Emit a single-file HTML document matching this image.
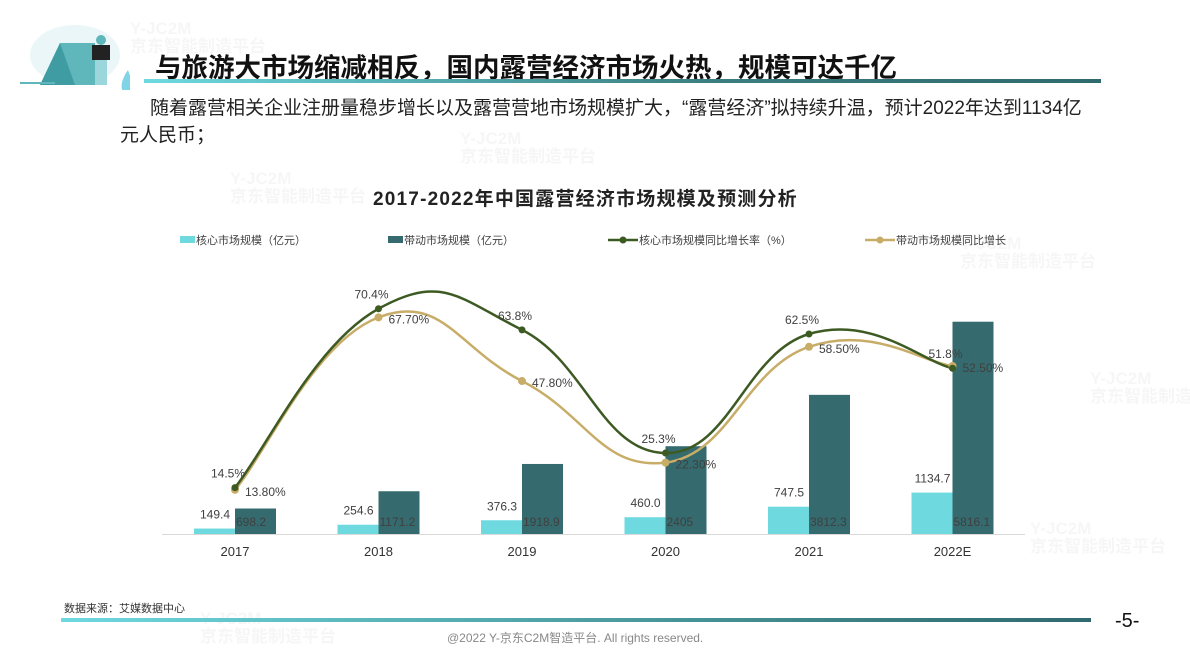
<!DOCTYPE html>
<html><head><meta charset="utf-8">
<style>
body{margin:0;background:#fff;}
#root{position:relative;width:1190px;height:669px;overflow:hidden;background:#fff;font-family:"Liberation Sans","Noto Sans CJK SC",sans-serif;}
.abs{position:absolute;}
.wm{position:absolute;color:#000;opacity:0.03;font-size:17px;font-weight:bold;line-height:18px;white-space:nowrap;}
</style></head>
<body>
<div id="root">
  <div class="wm" style="left:130px;top:20px">Y-JC2M<br>京东智能制造平台</div>
  <div class="wm" style="left:460px;top:130px">Y-JC2M<br>京东智能制造平台</div>
  <div class="wm" style="left:230px;top:170px">Y-JC2M<br>京东智能制造平台</div>
  <div class="wm" style="left:960px;top:235px">Y-JC2M<br>京东智能制造平台</div>
  <div class="wm" style="left:1090px;top:370px">Y-JC2M<br>京东智能制造平台</div>
  <div class="wm" style="left:1030px;top:520px">Y-JC2M<br>京东智能制造平台</div>
  <div class="wm" style="left:200px;top:610px">Y-JC2M<br>京东智能制造平台</div>
  <svg class="abs" style="left:15px;top:15px" width="115" height="75">
    <ellipse cx="60" cy="40" rx="45" ry="30" fill="#eaf6f7"/>
    <polygon points="25,70 45,28 80,28 80,70" fill="#5fb6bb"/>
    <polygon points="45,28 60,70 25,70" fill="#3e9ca2"/>
    <rect x="80" y="40" width="12" height="30" fill="#9bd6dc"/>
    <rect x="77" y="30" width="18" height="15" fill="#222"/>
    <circle cx="86" cy="25" r="5" fill="#5fb6bb"/>
    <path d="M112 80 C102 75 108 62 113 55 C116 65 122 70 112 80Z" fill="#7fd4e6"/>
    <rect x="5" y="67" width="35" height="2" fill="#5fb6bb"/>
  </svg>
  <div class="abs" style="left:155px;top:46px;font-size:26.5px;font-weight:bold;color:#111;white-space:nowrap;">与旅游大市场缩减相反，国内露营经济市场火热，规模可达千亿</div>
  <div class="abs" style="left:144px;top:79px;width:957px;height:4px;background:linear-gradient(90deg,#6ed9df,#3a7d80 60%,#2f6a6e);"></div>
  <div class="abs" style="left:150px;top:95px;width:1010px;font-size:19px;line-height:27px;color:#222;white-space:nowrap;">随着露营相关企业注册量稳步增长以及露营营地市场规模扩大，“露营经济”拟持续升温，预计2022年达到1134亿<br><span style="margin-left:-30px">元人民币；</span></div>
  <div class="abs" style="left:373px;top:184px;font-size:19px;font-weight:bold;color:#222;white-space:nowrap;letter-spacing:1.2px;">2017-2022年中国露营经济市场规模及预测分析</div>
  <svg id="chart" class="abs" style="left:0;top:0" width="1190" height="669"></svg>
  <div class="abs" style="left:64px;top:600px;font-size:11px;color:#333;">数据来源：艾媒数据中心</div>
  <div class="abs" style="left:61px;top:618px;width:1030px;height:4px;background:linear-gradient(90deg,#6ed9df,#3a7d80 80%,#2f6a6e);"></div>
  <div class="abs" style="left:1115px;top:610px;font-size:20px;color:#111;">-5-</div>
  <div class="abs" style="left:447px;top:629px;font-size:12px;color:#888;">@2022 Y-京东C2M智造平台. All rights reserved.</div>
</div>
<script>
const categories=["2017","2018","2019","2020","2021","2022E"];
const coreValues=[149.4,254.6,376.3,460.0,747.5,1134.7];
const coreLabels=["149.4","254.6","376.3","460.0","747.5","1134.7"];
const drivenValues=[698.2,1171.2,1918.9,2405,3812.3,5816.1];
const drivenLabels=["698.2","1171.2","1918.9","2405","3812.3","5816.1"];
const coreGrowth=[14.5,70.4,63.8,25.3,62.5,51.8];
const coreGrowthLabels=["14.5%","70.4%","63.8%","25.3%","62.5%","51.8%"];
const drivenGrowth=[13.8,67.7,47.8,22.3,58.5,52.5];
const drivenGrowthLabels=["13.80%","67.70%","47.80%","22.30%","58.50%","52.50%"];

const NS="http://www.w3.org/2000/svg";
const svg=document.getElementById('chart');
const base=534;
const x=i=>235+i*143.5;
const yv=v=>base-v*0.0365;
const yp=v=>base-v*3.2;
function mk(tag,attrs,parent){const e=document.createElementNS(NS,tag);for(const k in attrs)e.setAttribute(k,attrs[k]);(parent||svg).appendChild(e);return e;}
function txt(s,xx,yy,anchor,size,color,name){const t=mk('text',{x:xx,y:yy,'text-anchor':anchor,'font-size':size,fill:color,'font-family':'Liberation Sans, Noto Sans CJK SC, sans-serif'});t.textContent=s;


return t;}

const axis=mk('line',{x1:162,x2:1025,y1:base+0.5,y2:base+0.5,stroke:'#d9d9d9','stroke-width':1});



categories.forEach((c,i)=>{
  const cx=x(i);
  const r1=mk('rect',{x:cx-41,y:yv(coreValues[i]),width:41,height:base-yv(coreValues[i]),fill:'#6ed9df'});
  
  
  const r2=mk('rect',{x:cx,y:yv(drivenValues[i]),width:41,height:base-yv(drivenValues[i]),fill:'#356a6e'});
  
  
  txt(c,cx,556,'middle',13,'#333','x-tick-label');
  txt(coreLabels[i],cx-20,yv(coreValues[i])-10,'middle',12,'#404040','core-value-label');
  txt(drivenLabels[i],cx+1,526,'start',12,'#404040','driven-value-label');
});

function spline(vals,yf){
  const p=vals.map((v,i)=>[x(i),yf(v)]);
  let d='M'+p[0][0]+','+p[0][1];
  for(let i=0;i<p.length-1;i++){
    const p0=p[Math.max(i-1,0)],p1=p[i],p2=p[i+1],p3=p[Math.min(i+2,p.length-1)];
    const t=1/4.5;
    d+=' C'+(p1[0]+(p2[0]-p0[0])*t)+','+(p1[1]+(p2[1]-p0[1])*t)+' '+(p2[0]-(p3[0]-p1[0])*t)+','+(p2[1]-(p3[1]-p1[1])*t)+' '+p2[0]+','+p2[1];
  }
  return d;
}
const l2=mk('path',{d:spline(drivenGrowth,yp),fill:'none',stroke:'#c8ad68','stroke-width':2.5});


const l1=mk('path',{d:spline(coreGrowth,yp),fill:'none',stroke:'#3d5a23','stroke-width':2.5});


categories.forEach((c,i)=>{
  const p1=mk('circle',{cx:x(i),cy:yp(drivenGrowth[i]),r:4,fill:'#c8ad68'});
  
  
  const p2=mk('circle',{cx:x(i),cy:yp(coreGrowth[i]),r:3.5,fill:'#3d5a23'});
  
  
  txt(coreGrowthLabels[i],x(i)-7,yp(coreGrowth[i])-10,'middle',12,'#404040','core-growth-label');
  txt(drivenGrowthLabels[i],x(i)+10,yp(drivenGrowth[i])+6,'start',12,'#404040','driven-growth-label');
});

// legend
const lg=[["核心市场规模（亿元）",'bar','#6ed9df',172],["带动市场规模（亿元）",'bar','#356a6e',380],["核心市场规模同比增长率（%）",'line','#3d5a23',600],["带动市场规模同比增长",'line','#c8ad68',857]];
lg.forEach(l=>{
  const g=mk('g',{});
  
  
  if(l[1]==='bar'){mk('rect',{x:l[3]+8,y:236,width:15,height:7,fill:l[2]},g);}
  else{mk('line',{x1:l[3]+8,x2:l[3]+38,y1:240,y2:240,stroke:l[2],'stroke-width':2.5},g);mk('circle',{cx:l[3]+23,cy:240,r:3.5,fill:l[2]},g);}
  const t=txt(l[0],l[1]==='bar'?l[3]+24:l[3]+39,244,'start',11,'#404040','legend-label');
  g.appendChild(t);
});
</script>
</body></html>
